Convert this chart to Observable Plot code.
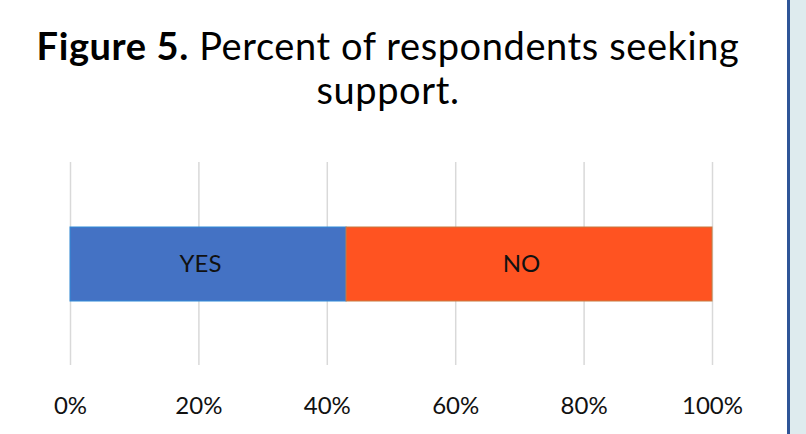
<!DOCTYPE html>
<html>
<head>
<meta charset="utf-8">
<script src="https://cdn.jsdelivr.net/npm/d3@7"></script>
<script src="https://cdn.jsdelivr.net/npm/@observablehq/plot@0.6"></script>
<style>
  html, body { margin: 0; padding: 0; background: #fff; }
  #wrap { position: relative; width: 806px; height: 434px; overflow: hidden; background: #fff; }
  #title { position: absolute; left: 0; top: 23px; width: 776px; text-align: center;
           font-family: Lato, "Open Sans", sans-serif; font-size: 38px; letter-spacing: 0.6px;
           line-height: 44px; color: #000; }
  #chart { position: absolute; left: 0; top: 150px; }
  #border { position: absolute; left: 787px; top: 0; width: 3px; height: 434px; background: #2f5597; }
  #side { position: absolute; left: 790px; top: 0; width: 16px; height: 434px; background: #deebee; }
</style>
</head>
<body>
<div id="wrap">
  <div id="title"><b>Figure 5.</b> Percent of respondents seeking<br>support.</div>
  <div id="chart"></div>
  <div id="border"></div>
  <div id="side"></div>
</div>
<script>
// Data
const categories = ["YES", "NO"];
const values = [0.43, 0.57];
const tickValues = [0, 0.2, 0.4, 0.6, 0.8, 1];
const tickLabels = ["0%", "20%", "40%", "60%", "80%", "100%"];

// Styles
const fillColors = {YES: "#4472c4", NO: "#ff5321"};
const strokeColors = {YES: "#2e8ad8", NO: "#c67a40"};

const rows = categories.map((c, i) => ({group: "Q", category: c, value: values[i]}));

const chart = Plot.plot({
  width: 788,
  height: 284,
  marginLeft: 70,
  marginRight: 76,
  marginTop: 12,
  marginBottom: 69,
  style: {fontFamily: "Lato, 'Open Sans', sans-serif", fontSize: "24px", color: "#111", background: "transparent"},
  x: {domain: [0, 1], label: null},
  y: {domain: ["Q"], padding: 0.4657, axis: null},
  color: {type: "identity"},
  marks: [
    Plot.gridX(tickValues, {stroke: "#d9d9d9", strokeOpacity: 1, strokeWidth: 1.5}),
    Plot.barX(rows, Plot.stackX({
      x: "value", y: "group", order: null,
      fill: d => fillColors[d.category],
      stroke: d => strokeColors[d.category],
      strokeWidth: 1
    })),
    Plot.text(rows, Plot.stackX({
      x: "value", y: "group", order: null,
      text: "category", fill: "#111", fontSize: 24, dx: -8
    })),
    Plot.axisX(tickValues, {
      tickSize: 0, tickPadding: 31, fontSize: 24, fill: "#111", label: null,
      tickFormat: (d) => tickLabels[tickValues.indexOf(d)]
    })
  ]
});
document.getElementById("chart").appendChild(chart);
</script>
</body>
</html>
